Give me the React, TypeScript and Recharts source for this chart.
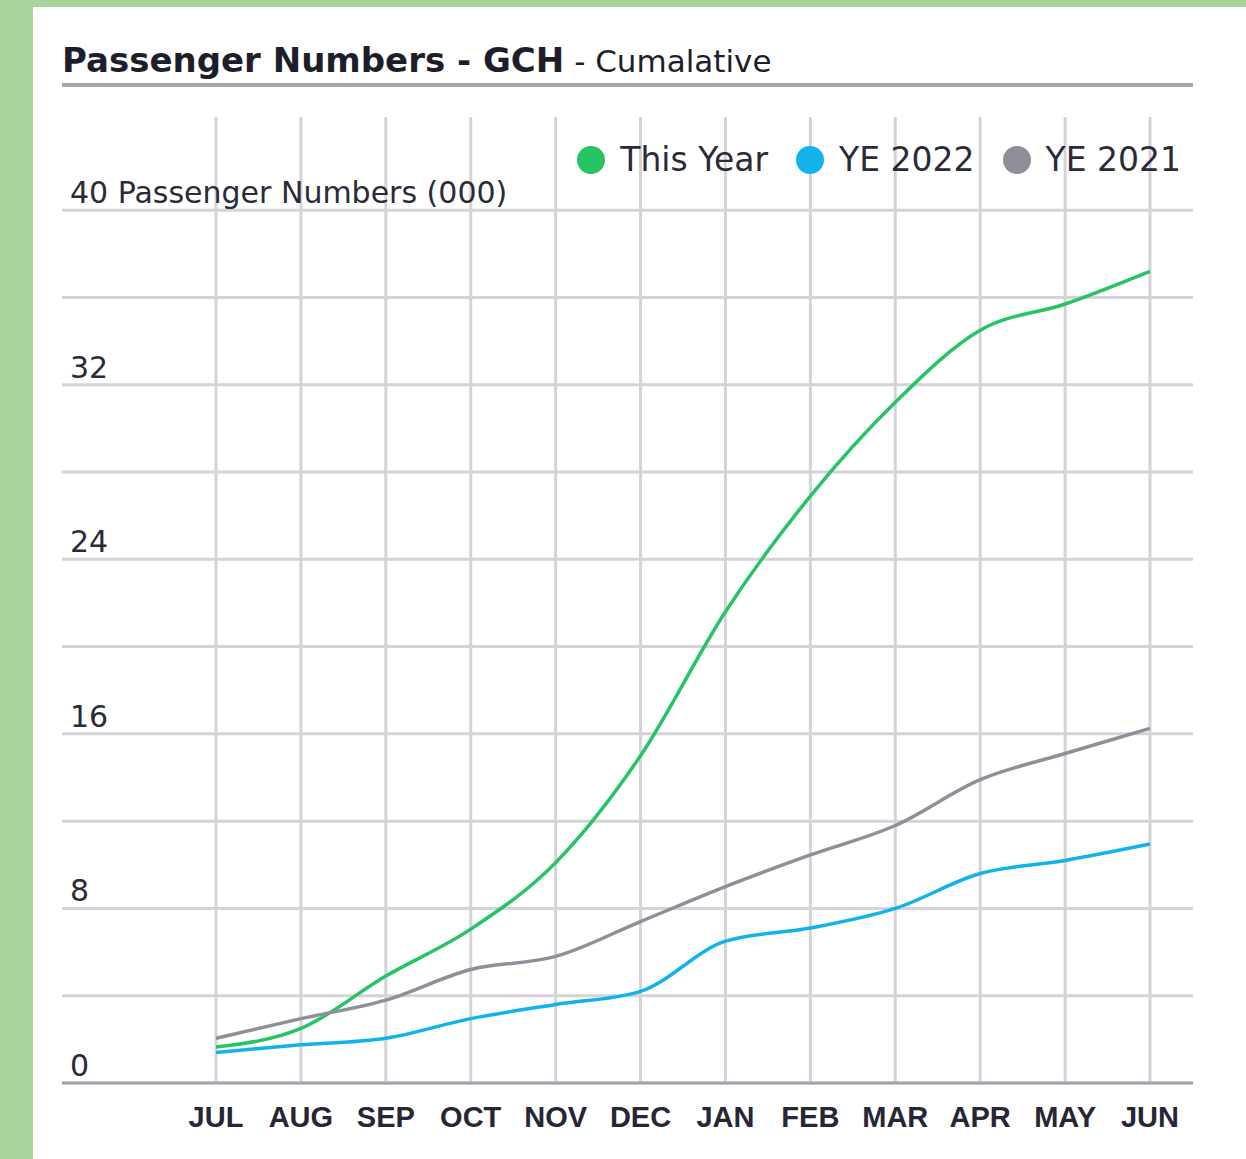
import React from "react"
import { LineChart, Line, XAxis, YAxis, CartesianGrid } from "recharts"

const months = ["JUL", "AUG", "SEP", "OCT", "NOV", "DEC", "JAN", "FEB", "MAR", "APR", "MAY", "JUN"]
const thisYear = [1.65, 2.5, 4.9, 7.05, 10.1, 15.0, 21.6, 26.9, 31.2, 34.5, 35.7, 37.2]
const ye2022 = [1.4, 1.75, 2.05, 2.95, 3.6, 4.2, 6.5, 7.1, 8.0, 9.6, 10.2, 10.95]
const ye2021 = [2.05, 2.95, 3.8, 5.2, 5.8, 7.4, 9.0, 10.45, 11.8, 13.9, 15.1, 16.25]
const yTicks = [0, 4, 8, 12, 16, 20, 24, 28, 32, 36, 40]

const SERIES = [
  { key: "thisYear", name: "This Year", color: "#26c464" },
  { key: "ye2022", name: "YE 2022", color: "#12b3ec" },
  { key: "ye2021", name: "YE 2021", color: "#8f8f99" },
]

const data = months.map((m, i) => ({
  month: m,
  thisYear: thisYear[i],
  ye2022: ye2022[i],
  ye2021: ye2021[i],
}))

const FONT = "'DejaVu Sans', Verdana, sans-serif"
const TICK_FONT = "'Liberation Sans', Arial, sans-serif"

// eslint-disable-next-line @typescript-eslint/no-explicit-any
const YTick = (props: any) => {
  const { x, y, payload } = props
  if (payload.value % 8 !== 0) return null
  const label = payload.value === 40 ? "40 Passenger Numbers (000)" : String(payload.value)
  return (
    <text x={x} y={y - 7} fontSize={30} fill="#2b2b38" fontFamily={FONT} textAnchor="start">
      {label}
    </text>
  )
}

const ChartLegend = () => (
  <div
    style={{
      position: "absolute",
      right: 65,
      top: 142,
      display: "flex",
      alignItems: "center",
      fontFamily: FONT,
      fontSize: 33,
      color: "#2b2b38",
      lineHeight: "36px",
      whiteSpace: "nowrap",
    }}
  >
    {SERIES.map((s, i) => (
      <div key={s.key} style={{ display: "flex", alignItems: "center", marginLeft: i === 0 ? 0 : 28 }}>
        <span style={{ width: 28, height: 28, borderRadius: 14, background: s.color, display: "inline-block", marginRight: 15 }} />
        <span>{s.name}</span>
      </div>
    ))}
  </div>
)

export default function App() {
  return (
    <div style={{ position: "absolute", left: 0, top: 0, width: 1246, height: 1159, background: "#a9d39b", overflow: "hidden" }}>
      <div style={{ position: "absolute", left: 33, top: 7, right: 0, bottom: 0, background: "#ffffff" }} />
      <div style={{ position: "absolute", left: 62, top: 43, fontFamily: FONT, color: "#1e1e2a", whiteSpace: "nowrap", lineHeight: 1 }}>
        <span style={{ fontSize: 34, fontWeight: 700 }}>Passenger Numbers - GCH</span>
        <span style={{ fontSize: 31 }}> - Cumalative</span>
      </div>
      <div style={{ position: "absolute", left: 62, top: 83, width: 1131, height: 4, background: "#a6a6aa" }} />
      <div style={{ position: "absolute", left: 0, top: 0 }}>
        <LineChart width={1246} height={1159} data={data} margin={{ top: 117, right: 53, bottom: 36, left: 62 }}>
          <CartesianGrid stroke="#d3d3d8" strokeWidth={3} syncWithTicks />
          <XAxis
            dataKey="month"
            interval={0}
            padding={{ left: 154, right: 43 }}
            height={40}
            tickLine={false}
            axisLine={{ stroke: "#a3a3ad", strokeWidth: 3 }}
            tickMargin={17}
            tick={{ fontSize: 29, fontWeight: 700, fill: "#262636", fontFamily: TICK_FONT }}
          />
          <YAxis
            domain={[0, 44.27]}
            ticks={yTicks}
            mirror
            axisLine={false}
            tickLine={false}
            tickSize={0}
            tickMargin={8}
            tick={<YTick />}
          />
          {SERIES.map((s) => (
            <Line
              key={s.key}
              type="monotone"
              dataKey={s.key}
              name={s.name}
              stroke={s.color}
              strokeWidth={3.5}
              dot={false}
              isAnimationActive={false}
            />
          ))}
        </LineChart>
      </div>
      <ChartLegend />
    </div>
  )
}
